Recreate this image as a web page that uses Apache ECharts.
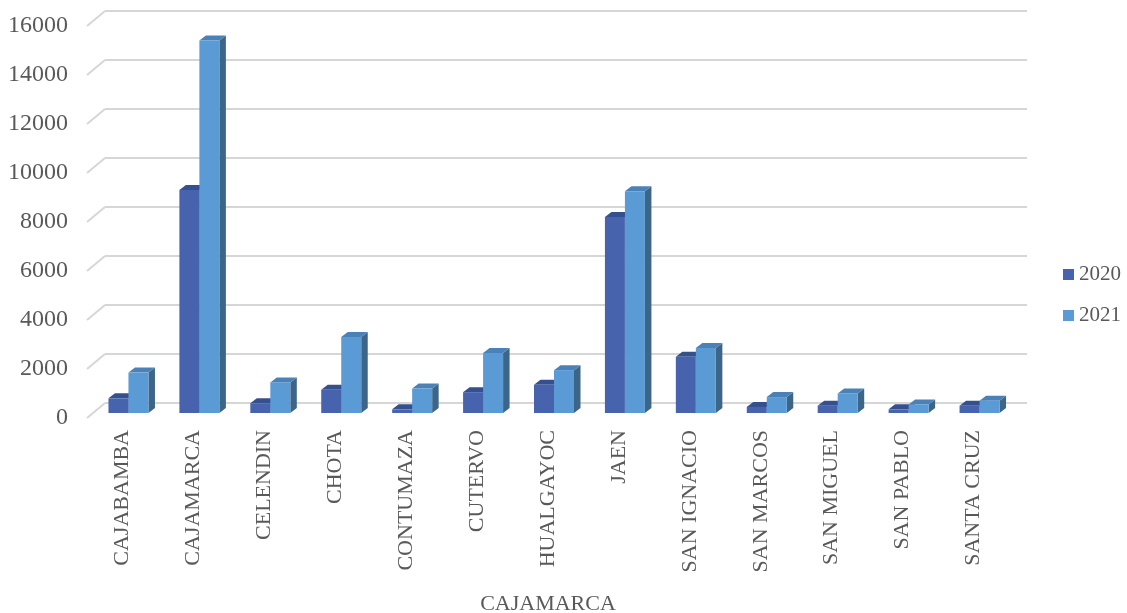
<!DOCTYPE html>
<html>
<head>
<meta charset="utf-8">
<script src="https://cdn.jsdelivr.net/npm/echarts@6/dist/echarts.min.js"></script>
<style>html,body{margin:0;padding:0;background:#fff;}#c{width:1127px;height:613px;}</style>
</head>
<body>
<div id="c"></div>
<script>
const categories = ['CAJABAMBA','CAJAMARCA','CELENDIN','CHOTA','CONTUMAZA','CUTERVO','HUALGAYOC','JAEN','SAN IGNACIO','SAN MARCOS','SAN MIGUEL','SAN PABLO','SANTA CRUZ'];
const values2020 = [600, 9100, 400, 950, 150, 850, 1150, 8000, 2300, 250, 300, 150, 300];
const values2021 = [1650, 15200, 1250, 3100, 1000, 2450, 1750, 9050, 2650, 650, 800, 350, 500];
const yTicks = [0, 2000, 4000, 6000, 8000, 10000, 12000, 14000, 16000];
const seriesNames = ['2020', '2021'];

const FONT = '"Liberation Serif", "Times New Roman", serif';
const TXT = '#595959';
const GRID = '#d6d6d6';
const BAR_W = 20, SHIFT_X = 6, SHIFT_Y = 5, DEPTH_X = 6.5, DEPTH_Y = 5;

const palette = {
  '2020': {front: '#4763ad', top: '#35508f', side: '#2f4579'},
  '2021': {front: '#5b9bd5', top: '#4a82b8', side: '#3d6588'}
};

function barRenderer(idx, name) {
  return function (params, api) {
    const ci = api.value(0), v = api.value(1);
    const c = api.coord([ci, v]);
    const b = api.coord([ci, 0]);
    const cx = c[0] + SHIFT_X;
    const x0 = idx === 0 ? cx - BAR_W : cx;
    const x1 = x0 + BAR_W;
    const top = c[1] - SHIFT_Y;
    const base = b[1] - SHIFT_Y;
    const col = palette[name];
    return {
      type: 'group',
      children: [
        {type: 'polygon', shape: {points: [[x1, top], [x1 + DEPTH_X, top - DEPTH_Y], [x1 + DEPTH_X, base - DEPTH_Y], [x1, base]]}, style: {fill: col.side}},
        {type: 'polygon', shape: {points: [[x0, top], [x0 + DEPTH_X, top - DEPTH_Y], [x1 + DEPTH_X, top - DEPTH_Y], [x1, top]]}, style: {fill: col.top}},
        {type: 'rect', shape: {x: x0, y: top, width: BAR_W, height: base - top}, style: {fill: col.front}}
      ]
    };
  };
}

const chart = echarts.init(document.getElementById('c'), null, {renderer: 'canvas'});
chart.setOption({
  animation: false,
  backgroundColor: '#ffffff',
  grid: [
    {left: 105, right: 100, top: 11, bottom: 210, outerBoundsMode: 'none', containLabel: false},
    {left: 87, right: 118, top: 26, bottom: 195, outerBoundsMode: 'none', containLabel: false}
  ],
  xAxis: [
    {gridIndex: 0, type: 'category', data: categories, show: false},
    {gridIndex: 1, type: 'category', data: categories,
      axisLine: {show: false}, axisTick: {show: false},
      axisLabel: {rotate: 90, interval: 0, margin: 12, fontSize: 22, fontFamily: FONT, color: TXT},
      name: 'CAJAMARCA', nameLocation: 'middle', nameGap: 175,
      nameTextStyle: {fontSize: 22, fontFamily: FONT, color: TXT}
    }
  ],
  yAxis: [
    {gridIndex: 0, type: 'value', min: 0, max: 16000, interval: 2000,
      axisLabel: {show: false}, axisLine: {show: false}, axisTick: {show: false},
      splitLine: {show: true, lineStyle: {color: GRID, width: 2}}},
    {gridIndex: 1, type: 'value', min: 0, max: 16000, interval: 2000,
      axisLine: {show: false}, axisTick: {show: false}, splitLine: {show: false},
      axisLabel: {margin: 19, fontSize: 24, fontFamily: FONT, color: TXT, formatter: v => String(v)}}
  ],
  legend: {
    data: seriesNames, orient: 'vertical', left: 1058, top: 259,
    icon: 'rect', itemWidth: 11, itemHeight: 11, itemGap: 20,
    textStyle: {fontSize: 21, fontFamily: FONT, color: TXT}
  },
  series: [
    {
      type: 'custom', name: 'wall', xAxisIndex: 1, yAxisIndex: 1, z: 1, silent: true,
      data: yTicks.map(v => [0, v]),
      renderItem: function (params, api) {
        const y = api.coord([0, api.value(1)])[1];
        const x = params.coordSys.x;
        return {type: 'line', shape: {x1: x, y1: y, x2: x + 18, y2: y - 15}, style: {stroke: GRID, lineWidth: 2}};
      }
    },
    {
      type: 'custom', name: seriesNames[0], xAxisIndex: 1, yAxisIndex: 1, z: 3,
      itemStyle: {color: palette['2020'].front},
      data: values2020.map((v, i) => [i, v]),
      renderItem: barRenderer(0, '2020')
    },
    {
      type: 'custom', name: seriesNames[1], xAxisIndex: 1, yAxisIndex: 1, z: 4,
      itemStyle: {color: palette['2021'].front},
      data: values2021.map((v, i) => [i, v]),
      renderItem: barRenderer(1, '2021')
    }
  ]
});
</script>
</body>
</html>
